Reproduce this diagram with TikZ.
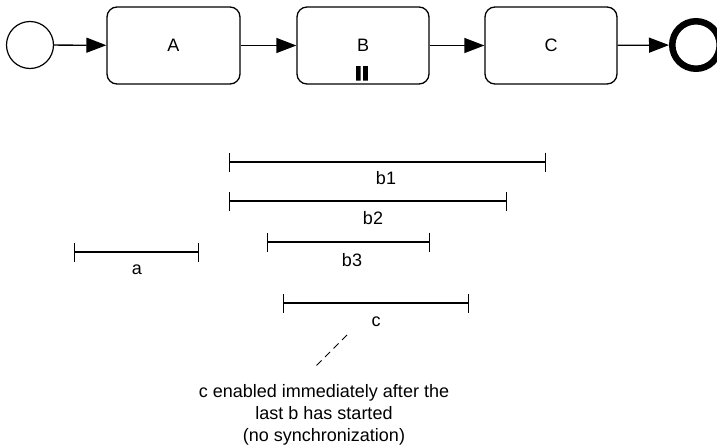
\documentclass[tikz,border=0pt]{standalone}
\usepackage{fontspec}
\setmainfont{Liberation Sans}
\usetikzlibrary{arrows.meta,calc}
\begin{document}
\begin{tikzpicture}[x=1pt,y=-1pt,
  every node/.style={font=\fontsize{18}{22}\selectfont},
  task/.style={draw,line width=1.3pt,rounded corners=10pt,inner sep=0pt},
  flow/.style={line width=1.3pt,-{Triangle[length=20pt,width=15pt]}},
  span/.style={line width=1.2pt,{Bar[width=19pt,line width=1.3pt]}-{Bar[width=19pt,line width=1.3pt]}},
  lbl/.style={inner sep=0pt,anchor=base}]
\useasboundingbox (0,0) rectangle (717,447);
\node[draw,circle,line width=1.2pt,minimum size=47pt,inner sep=0pt] (start) at (30,45) {};
\node[task,minimum width=133pt,minimum height=77pt] (A) at (173.5,45.5) {A};
\node[task,minimum width=132pt,minimum height=77pt] (B) at (363,45.5) {B};
\node[task,minimum width=132pt,minimum height=77pt] (C) at (551,45.5) {C};
\node[draw,circle,line width=6.5pt,minimum size=47.5pt,inner sep=0pt] (end) at (696,45) {};
\fill (356,66) rectangle (360.6,80.7) (363.2,66) rectangle (367.8,80.7);
\draw[flow] (start) -- (A);
\draw[flow] (A) -- (B);
\draw[flow] (B) -- (C);
\draw[flow] (C) -- (end);
% timelines
\coordinate (b1s) at (229,162); \coordinate (b1e) at (546,162);
\coordinate (b2s) at (229,201); \coordinate (b2e) at (507,201);
\coordinate (b3s) at (267,242); \coordinate (b3e) at (430,242);
\coordinate (as) at (74,252); \coordinate (ae) at (199,252);
\coordinate (cs) at (283,303); \coordinate (ce) at (469,303);
\draw[span] (b1s) -- (b1e);
\draw[span] (b2s) -- (b2e);
\draw[span] (b3s) -- (b3e);
\draw[span] (as) -- (ae);
\draw[span] (cs) -- (ce);
\node[lbl] (lb1) at (386,184) {b1};
\node[lbl] (lb2) at (373,224) {b2};
\node[lbl] (lb3) at (352,266) {b3};
\node[lbl] (la) at (137,274) {a};
\node[lbl] (lc) at (376,326) {c};
\node[inner sep=0pt,align=center,font=\fontsize{18}{22}\selectfont] (note) at (324,414.5) {c enabled immediately after the\\last b has started\\(no synchronization)};
\coordinate (d1) at (347,335);
\coordinate (d2) at (314,368);
\draw[line width=1pt,dash pattern=on 7pt off 5pt] (d1) -- (d2);
\end{tikzpicture}
\end{document}
